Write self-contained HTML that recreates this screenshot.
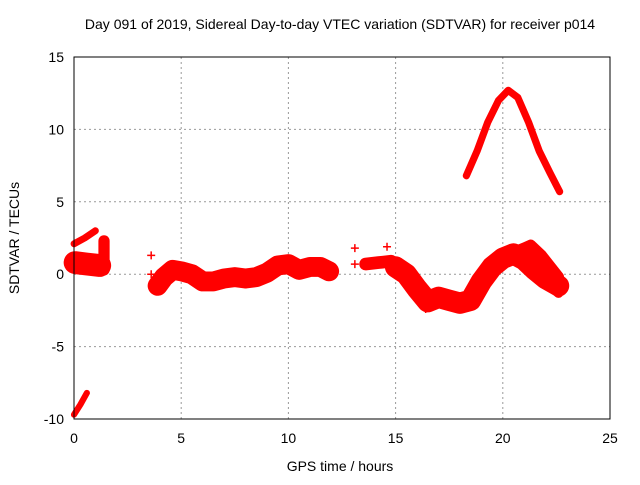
<!DOCTYPE html>
<html><head><meta charset="utf-8"><style>
body{margin:0;background:#fff}
svg text{font-family:"Liberation Sans",sans-serif;font-size:14px;fill:#000}
</style></head><body>
<svg id="c" width="640" height="480" xmlns="http://www.w3.org/2000/svg">
<rect width="640" height="480" fill="#fff"/>
<text x="340" y="29" text-anchor="middle">Day 091 of 2019, Sidereal Day-to-day VTEC variation (SDTVAR) for receiver p014</text>
<text x="340" y="471" text-anchor="middle">GPS time / hours</text>
<text transform="translate(19,238) rotate(-90)" text-anchor="middle">SDTVAR / TECUs</text>
<g id="grid"></g><g id="marks"></g>
<rect x="74" y="57" width="536" height="362" fill="none" stroke="#000"/>
</svg>
<script>
const xTicks=[0,5,10,15,20,25];
const yTicks=[-10,-5,0,5,10,15];
const trackA=[[0,2.1],[0.5,2.5],[1.0,3.0]];
const trackB=[[0.05,0.8],[0.6,0.7],[1.2,0.6]];
const trackC=[[1.4,2.3],[1.4,1.2],[1.4,0.3]];
const trackD=[[0,-9.7],[0.3,-9.0],[0.6,-8.2]];
const trackE=[[3.9,-0.8],[4.2,-0.2],[4.6,0.3],[5.0,0.2],[5.5,0.0],[6.0,-0.5],[6.5,-0.5],[7.0,-0.3],[7.5,-0.2],[8.0,-0.3],[8.5,-0.2],[9.0,0.1],[9.5,0.6],[10.0,0.7],[10.5,0.3],[11.0,0.5],[11.5,0.5],[11.9,0.2]];
const trackF=[[13.6,0.7],[14.2,0.8],[14.8,0.9]];
const trackG=[[15,0.5],[15.5,0.0],[16,-1.0],[16.5,-1.9],[17,-1.6],[17.5,-1.8],[18,-2.0],[18.5,-1.8],[19,-0.5],[19.5,0.5],[20,1.1],[20.5,1.4],[21,1.0],[21.5,0.3],[22,-0.3],[22.6,-0.8]];
const trackG2=[[20.5,1.5],[21,1.8],[21.3,2.0],[21.8,1.3],[22.6,-0.2]];
const trackG3=[[21.3,0.4],[22.6,-1.3]];
const trackH=[[18.3,6.8],[18.8,8.5],[19.3,10.5],[19.8,12.0],[20.25,12.7],[20.7,12.2],[21.2,10.5],[21.7,8.5],[22.2,7.0],[22.65,5.7]];
const singles=[[3.6,1.3],[3.6,0.0],[13.1,1.8],[13.1,0.7],[14.6,1.9],[16.4,-2.4]];
const tracks=[[trackA,0.2],[trackB,1.3],[trackC,0.5],[trackD,0.15],[trackE,1.1],[trackF,0.6],[trackG,1.2],[trackG2,0.5],[trackG3,0.4],[trackH,0.22]];
const X=t=>74+t*536/25, Y=v=>274.2-v*14.48;
const NS="http://www.w3.org/2000/svg";
const g=document.getElementById('grid'), m=document.getElementById('marks');
function el(n,a,p){const e=document.createElementNS(NS,n);for(const k in a)e.setAttribute(k,a[k]);p.appendChild(e);return e;}
xTicks.forEach(t=>{
 if(t>0&&t<25){const l=el('line',{x1:X(t),x2:X(t),y1:57,y2:419,stroke:'#999','stroke-dasharray':'2,3'},g);
 
 }
 const s=el('text',{x:X(t),y:443,'text-anchor':'middle'},g);s.textContent=t;
 
 
});
yTicks.forEach(v=>{
 if(v>-10&&v<15){const l=el('line',{x1:74,x2:610,y1:Y(v),y2:Y(v),stroke:'#999','stroke-dasharray':'2,3'},g);
 
 }
 const s=el('text',{x:64,y:Y(v)+5,'text-anchor':'end'},g);s.textContent=v;
 
 
});
tracks.forEach(([pts,w])=>{
 const p=el('polyline',{points:pts.map(q=>X(q[0])+','+Y(q[1])).join(' '),fill:'none',stroke:'#f00','stroke-width':w*14.48+4,'stroke-linejoin':'round','stroke-linecap':'round'},m);
 
 
});
singles.forEach(q=>{
 const x=X(q[0]),y=Y(q[1]);
 const p=el('path',{d:`M${x-4},${y}H${x+4}M${x},${y-4}V${y+4}`,stroke:'#f00','stroke-width':1.5},m);
 
 
});
</script>
</body></html>
